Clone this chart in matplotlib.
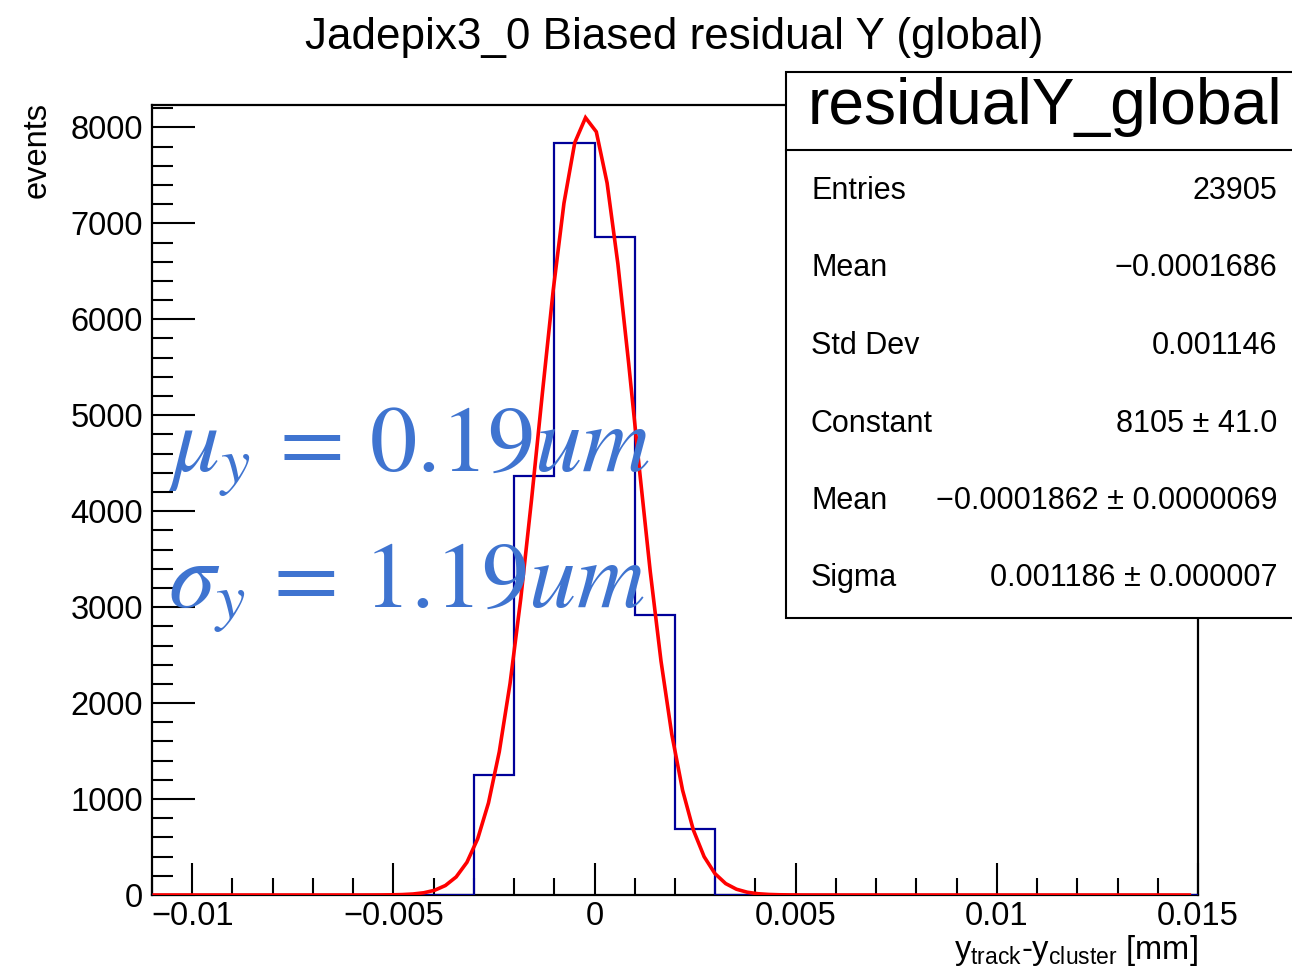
import numpy as np
import matplotlib
matplotlib.use("Agg")
import matplotlib.pyplot as plt
from matplotlib.patches import Rectangle
from matplotlib.lines import Line2D

plt.rcParams['font.family'] = ['Liberation Sans', 'DejaVu Sans']
plt.rcParams['mathtext.fontset'] = 'custom'
plt.rcParams['mathtext.rm'] = 'Liberation Sans'
plt.rcParams['mathtext.it'] = 'Liberation Sans:italic'

# ---- data ----
bin_lo = -0.011
bin_hi = 0.015
n_bins = 26
counts = [0, 0, 0, 0, 0, 0, 0, 0,
          1249, 4371, 7835, 6858, 2921, 689,
          0, 0, 0, 0, 0, 0, 0, 0, 0, 0, 0, 0]
fit_constant = 8105.0
fit_mean = -0.0001862
fit_sigma = 0.001186

x_ticks = [-0.01, -0.005, 0, 0.005, 0.01, 0.015]
x_tick_labels = ['\u22120.01', '\u22120.005', '0', '0.005', '0.01', '0.015']
y_ticks = [0, 1000, 2000, 3000, 4000, 5000, 6000, 7000, 8000]
y_tick_labels = ['0', '1000', '2000', '3000', '4000', '5000', '6000', '7000', '8000']

stat_names = ['Entries', 'Mean', 'Std Dev', 'Constant', 'Mean', 'Sigma']
stat_values = ['23905', '\u22120.0001686', '0.001146', '8105 \u00b1 41.0',
               '\u22120.0001862 \u00b1 0.0000069', '0.001186 \u00b1 0.000007']

W, H = 1292, 966
fig = plt.figure(figsize=(W / 100, H / 100), dpi=100)

def fx(px):
    return px / W

def fy(py):
    return 1 - py / H

ax = fig.add_axes([fx(152), fy(895), fx(1198) - fx(152), fy(105) - fy(895)])
ax.set_xlim(bin_lo, bin_hi)
ax.set_ylim(0, 8233)

edges = np.linspace(bin_lo, bin_hi, n_bins + 1)
ax.stairs(counts, edges, color='#000099', lw=1.6, zorder=3)

# TF1-style polyline sampling of the fitted gaussian
xs = np.arange(-0.010944, 0.01495, 0.000268)
ys = fit_constant * np.exp(-0.5 * ((xs - fit_mean) / fit_sigma) ** 2)
ax.plot(xs, ys, color='red', lw=2.6, zorder=4, solid_joinstyle='miter')

for s in ax.spines.values():
    s.set_linewidth(1.6)

ax.set_xticks(x_ticks)
ax.set_xticklabels(x_tick_labels, fontsize=23.5)
ax.set_xticks(np.arange(-0.011, 0.0151, 0.001), minor=True)
ax.set_yticks(y_ticks)
ax.set_yticklabels(y_tick_labels, fontsize=23.5)
ax.set_yticks(np.arange(0, 8201, 200), minor=True)
ax.tick_params(axis='x', which='major', direction='in', length=23, width=1.5, pad=4)
ax.tick_params(axis='x', which='minor', direction='in', length=12, width=1.5)
ax.tick_params(axis='y', which='major', direction='in', length=31, width=1.5, pad=6.5)
ax.tick_params(axis='y', which='minor', direction='in', length=15, width=1.5)

# title
fig.text(fx(674), fy(38), 'Jadepix3_0 Biased residual Y (global)', fontsize=31.7,
         ha='center', va='center')

# y label
fig.text(fx(37), fy(102), 'events', fontsize=23.5, rotation=90, ha='center', va='top')

# x label
fig.text(fx(1198), fy(950), r'$\mathrm{y_{track}}$-$\mathrm{y_{cluster}}$ [mm]',
         fontsize=23.5, ha='right', va='center')

# blue annotations
blue = '#3f74d0'
fig.text(fx(168), fy(470), r'$\mu_{y}\,=\,0.19um$', fontsize=68, color=blue,
         ha='left', va='baseline', math_fontfamily='stix', zorder=5)
fig.text(fx(168), fy(606), r'$\sigma_{y}\,=\,1.19um$', fontsize=68, color=blue,
         ha='left', va='baseline', math_fontfamily='stix', zorder=5)

# stats box
box = Rectangle((fx(786), fy(618)), fx(1310) - fx(786), fy(72) - fy(618),
                transform=fig.transFigure, facecolor='white', edgecolor='black',
                lw=1.5, zorder=10)
fig.add_artist(box)
fig.add_artist(Line2D([fx(786), fx(1300)], [fy(150), fy(150)],
                      transform=fig.transFigure, color='black', lw=1.5, zorder=11))
t = fig.text(fx(808), fy(107), 'residualY_global', fontsize=46.2, ha='left', va='center')
t.set_zorder(12)
row_y = [191, 268, 346, 424, 501, 578]
for name, val, yy in zip(stat_names, stat_values, row_y):
    a = fig.text(fx(811), fy(yy), name, fontsize=22, ha='left', va='center')
    b = fig.text(fx(1277), fy(yy), val, fontsize=22, ha='right', va='center')
    a.set_zorder(12)
    b.set_zorder(12)

fig.savefig('out.png', dpi=100)
